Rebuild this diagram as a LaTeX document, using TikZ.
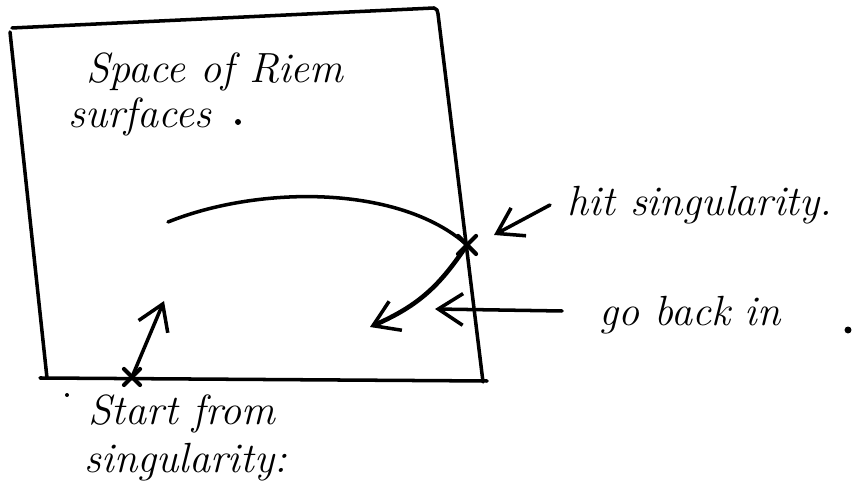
\documentclass[tikz,border=0pt]{standalone}
\usetikzlibrary{arrows.meta,calc}
\tikzset{
  ink/.style={line width=1pt, black, line cap=round, line join=round},
  inkarrow/.style={ink, -{Straight Barb[length=7pt,width=9pt,line width=1pt]}},
  hand/.style={font=\large\itshape, inner sep=1pt},
  xmark/.style={ink, line width=1.2pt}
}
\begin{document}
\begin{tikzpicture}[x=0.01cm,y=-0.01cm]
\useasboundingbox[fill=white] (0,0) rectangle (852,495);
% box corners
\coordinate (tl) at (12,28);
\coordinate (tr) at (434,8);
\coordinate (trc) at (438,14);
\coordinate (br) at (483,382);
\coordinate (bl) at (47,378);
\coordinate (blext) at (40,378);
\coordinate (brext) at (487,381);
\coordinate (lt) at (10,32);
\draw[ink] (tl) -- (tr) to[out=0,in=95] (trc) -- (br);
\draw[ink] (lt) -- (bl);
\draw[ink] (blext) -- (brext);
% texts
\node[hand] (t1) at (215,72) {Space of Riem};
\node[hand] (t2) at (140,117) {surfaces};
\node[fill=black, circle, inner sep=0.6pt] (d1) at (238,122) {};
\node[hand] (t3) at (700,205) {hit singularity.};
\node[hand] (t4) at (690,315) {go back in};
\node[fill=black, circle, inner sep=0.7pt] (d2) at (848,330) {};
\node[hand] (t5) at (182,414) {Start from};
\node[hand] (t6) at (186,462) {singularity:};
\node[fill=black, circle, inner sep=0.4pt] (d3) at (67,395) {};
% singular points
\coordinate (xs) at (467,245);
\coordinate (xb) at (132,377);
\draw[xmark] ($(xs)+(-9,-9)$) -- ($(xs)+(9,9)$);
\draw[xmark] ($(xs)+(-9,9)$) -- ($(xs)+(9,-9)$);
\draw[xmark] ($(xb)+(-8,-8)$) -- ($(xb)+(8,8)$);
\draw[xmark] ($(xb)+(-8,8)$) -- ($(xb)+(8,-8)$);
% arc to singularity
\coordinate (a0) at (168,222);
\draw[ink] (a0) .. controls (260,185) and (400,185) .. (xs);
% back in
\coordinate (back) at (370,327);
\draw[inkarrow, line width=1.3pt] (xs) .. controls (440,285) and (420,305) .. (back);
% start arrow
\coordinate (st) at (164,301);
\draw[inkarrow] (xb) -- (st);
% label arrows
\coordinate (h0) at (550,205);
\coordinate (h1) at (494,235);
\draw[inkarrow] (h0) -- (h1);
\coordinate (g0) at (562,311);
\coordinate (g1) at (435,309);
\draw[inkarrow] (g0) -- (g1);
\end{tikzpicture}
\end{document}
